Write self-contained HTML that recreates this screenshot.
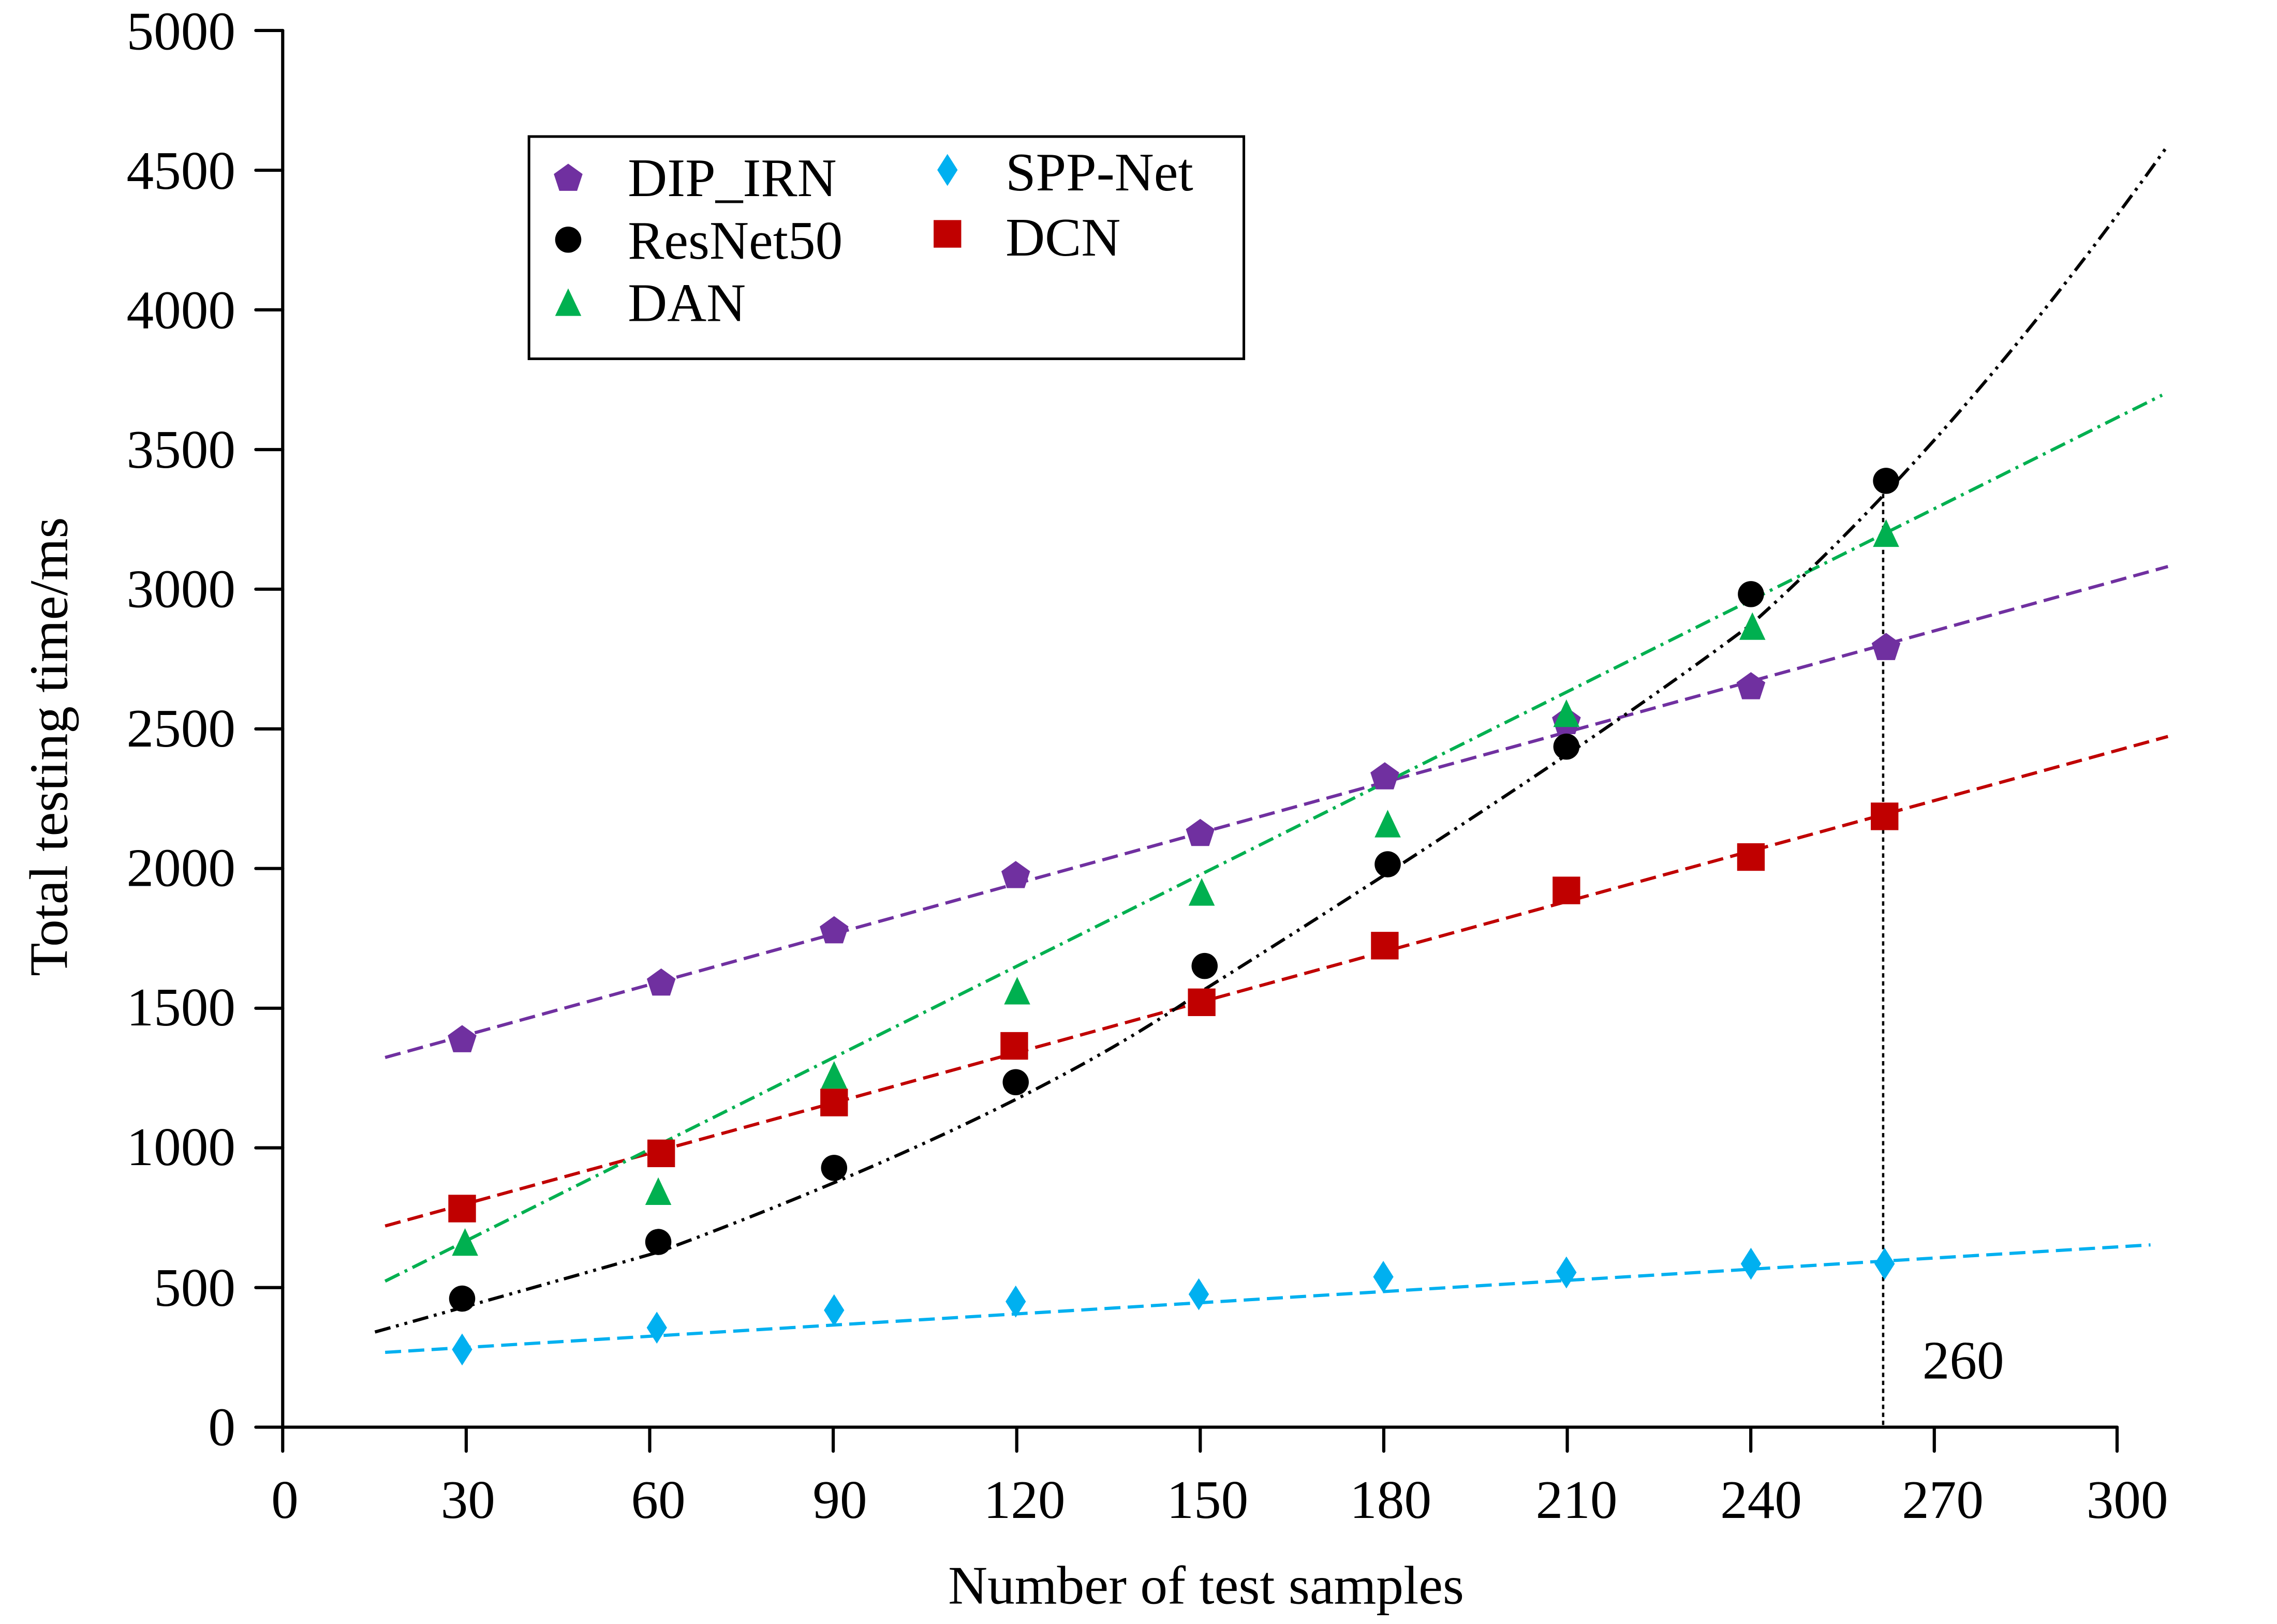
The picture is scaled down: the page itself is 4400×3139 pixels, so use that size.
<!DOCTYPE html>
<html><head><meta charset="utf-8"><style>
html,body{margin:0;padding:0;background:#fff}
svg{display:block}
text{font-family:"Liberation Serif","Times New Roman",serif;fill:#000}
</style></head><body>
<svg width="4400" height="3139" viewBox="0 0 1567 1118" xmlns="http://www.w3.org/2000/svg">
<rect width="1567" height="1118" fill="#fff"/>
<g stroke="#000" stroke-width="2.2" stroke-linecap="round" fill="none">
<line x1="194.5" y1="21" x2="194.5" y2="999"/>
<line x1="176" y1="982.5" x2="1457" y2="982.5"/>
<line x1="176" y1="21" x2="194.5" y2="21"/>
<line x1="176" y1="117.2" x2="194.5" y2="117.2"/>
<line x1="176" y1="213.3" x2="194.5" y2="213.3"/>
<line x1="176" y1="309.5" x2="194.5" y2="309.5"/>
<line x1="176" y1="405.6" x2="194.5" y2="405.6"/>
<line x1="176" y1="501.8" x2="194.5" y2="501.8"/>
<line x1="176" y1="597.9" x2="194.5" y2="597.9"/>
<line x1="176" y1="694.1" x2="194.5" y2="694.1"/>
<line x1="176" y1="790.2" x2="194.5" y2="790.2"/>
<line x1="176" y1="886.4" x2="194.5" y2="886.4"/>
<line x1="320.8" y1="982.5" x2="320.8" y2="999"/>
<line x1="447.1" y1="982.5" x2="447.1" y2="999"/>
<line x1="573.4" y1="982.5" x2="573.4" y2="999"/>
<line x1="699.7" y1="982.5" x2="699.7" y2="999"/>
<line x1="826" y1="982.5" x2="826" y2="999"/>
<line x1="952.3" y1="982.5" x2="952.3" y2="999"/>
<line x1="1078.6" y1="982.5" x2="1078.6" y2="999"/>
<line x1="1204.9" y1="982.5" x2="1204.9" y2="999"/>
<line x1="1331.2" y1="982.5" x2="1331.2" y2="999"/>
<line x1="1457" y1="982.5" x2="1457" y2="999"/>
</g>
<g font-size="37.5" text-anchor="end">
<text x="162" y="34">5000</text><text x="162" y="130">4500</text><text x="162" y="226">4000</text>
<text x="162" y="322">3500</text><text x="162" y="418">3000</text><text x="162" y="514">2500</text>
<text x="162" y="610">2000</text><text x="162" y="706">1500</text><text x="162" y="802">1000</text>
<text x="162" y="899">500</text><text x="162" y="995">0</text>
</g>
<g font-size="37.5" text-anchor="middle">
<text x="196" y="1045">0</text><text x="322" y="1045">30</text><text x="453" y="1045">60</text>
<text x="578" y="1045">90</text><text x="705" y="1045">120</text><text x="831" y="1045">150</text>
<text x="957" y="1045">180</text><text x="1085" y="1045">210</text><text x="1212" y="1045">240</text>
<text x="1337" y="1045">270</text><text x="1464" y="1045">300</text>
<text x="830" y="1104">Number of test samples</text>
<text transform="translate(46,514) rotate(-90)">Total testing time/ms</text>
</g>
<text x="1323" y="949" font-size="37.5">260</text>
<line x1="1296" y1="340" x2="1296" y2="982" stroke="#000" stroke-width="1.6" stroke-dasharray="3 2.5"/>

<g fill="none" stroke-width="2.2">
<line x1="265" y1="728" x2="1492" y2="390" stroke="#7030a0" stroke-dasharray="11 5"/>
<line x1="265" y1="844" x2="1492" y2="507" stroke="#c00000" stroke-dasharray="11 5"/>
<line x1="265" y1="931" x2="1480" y2="857" stroke="#00b0f0" stroke-dasharray="11 5"/>
<line x1="265" y1="882" x2="1488" y2="272" stroke="#00b050" stroke-dasharray="11 4 2 4"/>
<path d="M258,917 Q390,880 453,862 Q700,770 826,683 Q1078,525 1205,430 Q1350,300 1492,100" stroke="#000" stroke-dasharray="11 4 2 4 2 4"/>
</g>

<defs>
<polygon id="pent" points="0,-10.3 9.9,-3.2 6.1,8.4 -6.1,8.4 -9.9,-3.2" fill="#7030a0"/>
<circle id="circ" r="9" fill="#000"/>
<polygon id="tri" points="0,-10.5 9,8.5 -9,8.5" fill="#00b050"/>
<polygon id="dia" points="0,-11 7,0 0,11 -7,0" fill="#00b0f0"/>
<rect id="sq" x="-9.5" y="-9.5" width="19" height="19" fill="#c00000"/>
</defs>
<use href="#pent" x="318" y="716"/><use href="#pent" x="455" y="677"/><use href="#pent" x="574" y="641"/>
<use href="#pent" x="699" y="603"/><use href="#pent" x="826" y="574"/><use href="#pent" x="953" y="535"/>
<use href="#pent" x="1078" y="497"/><use href="#pent" x="1205" y="473"/><use href="#pent" x="1298" y="446"/>
<use href="#circ" x="318" y="894"/><use href="#circ" x="453" y="855"/><use href="#circ" x="574" y="804"/>
<use href="#circ" x="699" y="745"/><use href="#circ" x="829" y="665"/><use href="#circ" x="955" y="595"/>
<use href="#circ" x="1078" y="514"/><use href="#circ" x="1205" y="409"/><use href="#circ" x="1298" y="331"/>
<use href="#tri" x="320" y="856"/><use href="#tri" x="453" y="821"/><use href="#tri" x="574" y="741"/>
<use href="#tri" x="700" y="683"/><use href="#tri" x="827" y="615"/><use href="#tri" x="955" y="568"/>
<use href="#tri" x="1078" y="492"/><use href="#tri" x="1206" y="432"/><use href="#tri" x="1298" y="368"/>
<use href="#sq" x="318" y="832"/><use href="#sq" x="455" y="794"/><use href="#sq" x="574" y="759"/>
<use href="#sq" x="698" y="720"/><use href="#sq" x="827" y="690"/><use href="#sq" x="953" y="651"/>
<use href="#sq" x="1078" y="613"/><use href="#sq" x="1205" y="590"/><use href="#sq" x="1297" y="562"/>
<use href="#dia" x="318" y="929"/><use href="#dia" x="452" y="914"/><use href="#dia" x="574" y="902"/>
<use href="#dia" x="699" y="896"/><use href="#dia" x="825" y="891"/><use href="#dia" x="952" y="879"/>
<use href="#dia" x="1078" y="876"/><use href="#dia" x="1205" y="870"/><use href="#dia" x="1297" y="870"/>

<rect x="364" y="94" width="492" height="153" fill="#fff" stroke="#000" stroke-width="1.8"/>
<use href="#pent" x="391" y="123"/>
<use href="#circ" x="391" y="165"/>
<use href="#tri" x="391" y="209"/>
<use href="#dia" x="652" y="117"/>
<use href="#sq" x="652" y="161"/>
<g font-size="37.5">
<text x="432" y="135">DIP_IRN</text>
<text x="432" y="178">ResNet50</text>
<text x="432" y="221">DAN</text>
<text x="692" y="131">SPP-Net</text>
<text x="692" y="176">DCN</text>
</g>
</svg>
</body></html>
